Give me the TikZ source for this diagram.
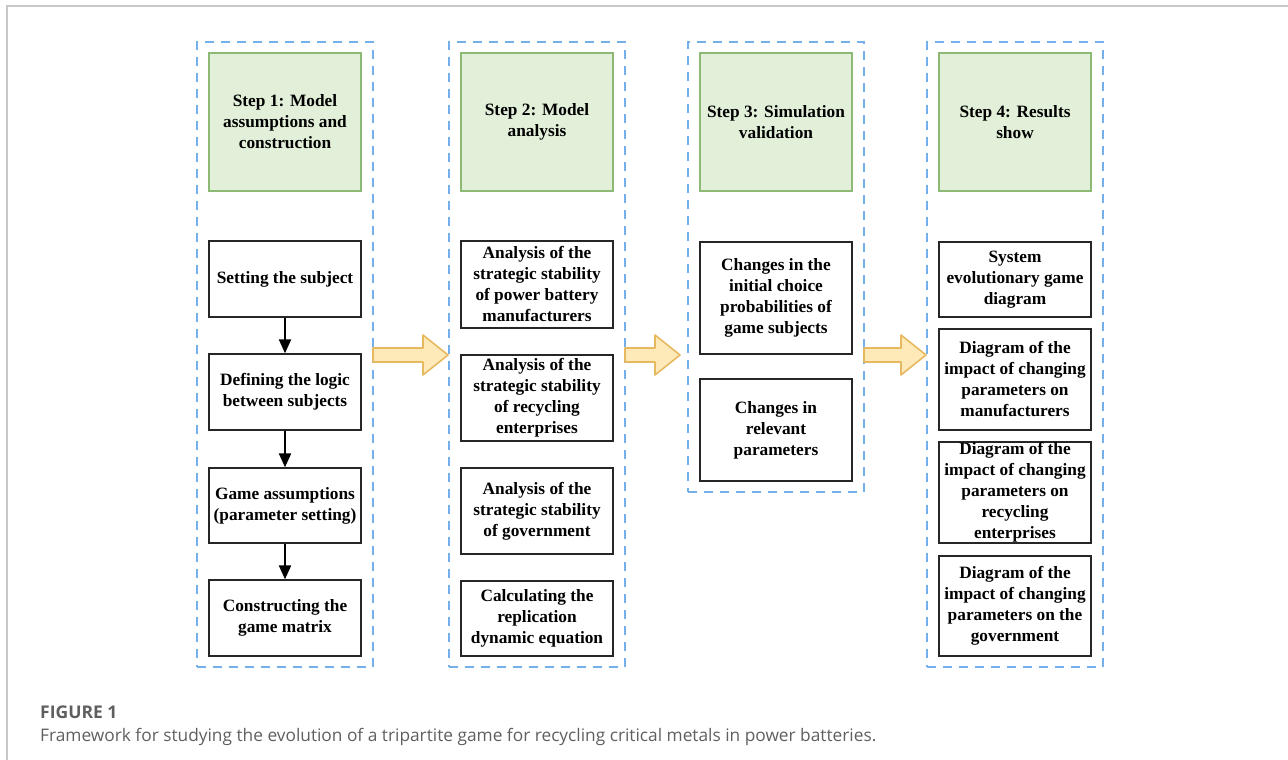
\documentclass[tikz,border=0pt]{standalone}
\usepackage{fontspec}
\setmainfont{Liberation Serif}
\newfontfamily\capfont{Open Sans}
\usetikzlibrary{arrows.meta,calc}
\definecolor{framegray}{RGB}{200,200,200}
\definecolor{dashblue}{RGB}{116,176,234}
\definecolor{headfill}{RGB}{226,240,217}
\definecolor{headline}{RGB}{140,186,118}
\definecolor{arrfill}{RGB}{253,234,184}
\definecolor{arrline}{RGB}{230,184,96}
\definecolor{capgray}{RGB}{95,95,95}
\tikzset{
  colframe/.style={draw=dashblue,line width=2pt,dash pattern=on 9pt off 7pt,minimum width=176pt,inner sep=0pt},
  headbox/.style={draw=headline,fill=headfill,line width=2pt,minimum width=152pt,minimum height=138pt,align=center,font=\bfseries\fontsize{17.3}{21}\selectfont,inner sep=0pt},
  itembox/.style={draw=black!85,line width=1.3pt,minimum width=152pt,align=center,font=\bfseries\fontsize{17.3}{21}\selectfont,inner sep=0pt},
  flow/.style={line width=2pt,-{Triangle[length=14pt,width=12pt]}},
  yarrow/.style={draw=arrline,fill=arrfill,line width=1.6pt,line join=round}
}
\newcommand\blockarrow[2]{%
  \draw[yarrow] ($(#1)+(0,-7)$) -- ($(#2)+(-25,-7)$) -- ($(#2)+(-25,-20)$) -- (#2)
    -- ($(#2)+(-25,20)$) -- ($(#2)+(-25,7)$) -- ($(#1)+(0,7)$) -- cycle;}
\begin{document}
\begin{tikzpicture}[x=1pt,y=-1pt]
  \useasboundingbox (0,0) rectangle (1288,760);
  % page frame
  \draw[framegray,line width=2pt] (7,760) -- (7,6) -- (1288,6);
  % column frames
  \node[colframe,minimum height=625pt] (col1) at (284.5,354.5) {};
  \node[colframe,minimum height=625pt] (col2) at (537,354.5) {};
  \node[colframe,minimum height=450pt] (col3) at (776,267) {};
  \node[colframe,minimum height=625pt] (col4) at (1015,354.5) {};
  % step headers
  \node[headbox] (h1) at (285,122) {Step 1: Model\\assumptions and\\construction};
  \node[headbox] (h2) at (537,122) {Step 2: Model\\analysis};
  \node[headbox] (h3) at (776,122) {Step 3: Simulation\\validation};
  \node[headbox] (h4) at (1015,122) {Step 4: Results\\show};
  % step 1
  \node[itembox,minimum height=76pt] (s11) at (285,279) {Setting the subject};
  \node[itembox,minimum height=76pt] (s12) at (285,392) {Defining the logic\\between subjects};
  \node[itembox,minimum height=75pt] (s13) at (285,505.5) {Game assumptions\\(parameter setting)};
  \node[itembox,minimum height=76pt] (s14) at (285,618) {Constructing the\\game matrix};
  \draw[flow] (s11) -- (s12);
  \draw[flow] (s12) -- (s13);
  \draw[flow] (s13) -- (s14);
  % step 2
  \node[itembox,minimum height=87pt] (s21) at (537,284.5) {Analysis of the\\strategic stability\\of power battery\\manufacturers};
  \node[itembox,minimum height=86pt] (s22) at (537,398) {Analysis of the\\strategic stability\\of recycling\\enterprises};
  \node[itembox,minimum height=86pt] (s23) at (537,511) {Analysis of the\\strategic stability\\of government};
  \node[itembox,minimum height=75pt] (s24) at (537,618.5) {Calculating the\\replication\\dynamic equation};
  % step 3
  \node[itembox,minimum height=112pt] (s31) at (776,298) {Changes in the\\initial choice\\probabilities of\\game subjects};
  \node[itembox,minimum height=102pt] (s32) at (776,430) {Changes in\\relevant\\parameters};
  % step 4
  \node[itembox,minimum height=75pt] (s41) at (1015,279.5) {System\\evolutionary game\\diagram};
  \node[itembox,minimum height=101pt] (s42) at (1015,379.5) {Diagram of the\\impact of changing\\parameters on\\manufacturers};
  \node[itembox,minimum height=101pt] (s43) at (1015,492.5) {Diagram of the\\impact of changing\\parameters on\\recycling\\enterprises};
  \node[itembox,minimum height=100pt] (s44) at (1015,606) {Diagram of the\\impact of changing\\parameters on the\\government};
  % block arrows between steps
  \coordinate (a1s) at (373,355);
  \coordinate (a1e) at (448,355);
  \coordinate (a2s) at (625,355);
  \coordinate (a2e) at (680,355);
  \coordinate (a3s) at (864,355);
  \coordinate (a3e) at (926,355);
  \blockarrow{a1s}{a1e}
  \blockarrow{a2s}{a2e}
  \blockarrow{a3s}{a3e}
  % caption
  \node[anchor=west,inner sep=0pt,text=capgray,font=\capfont\bfseries\fontsize{17.5}{20}\selectfont] (figno) at (40,712) {FIGURE 1};
  \node[anchor=west,inner sep=0pt,text=capgray,font=\capfont\fontsize{17.3}{20}\selectfont] (figcap) at (40,737) {Framework for studying the evolution of a tripartite game for recycling critical metals in power batteries.};
\end{tikzpicture}
\end{document}
